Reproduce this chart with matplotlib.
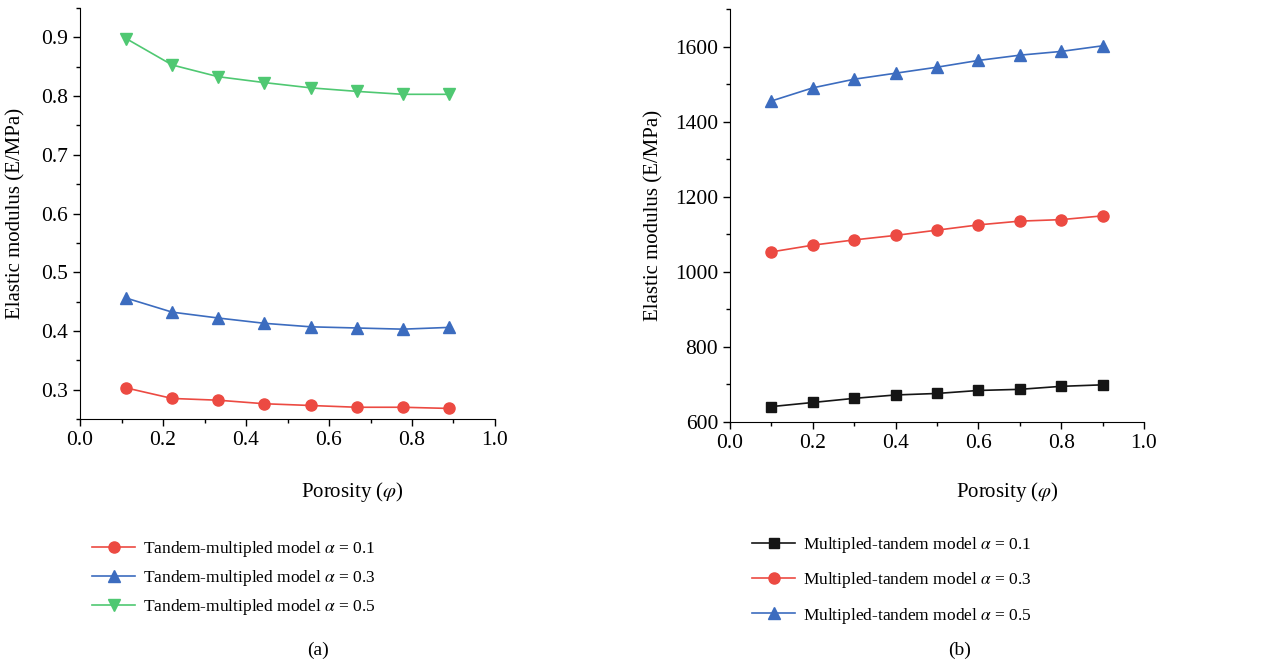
#!/usr/bin/env python3
"""
弾性率と空隙率の関係 (a) 直列-並列モデル (b) 並列-直列モデル
"""

import matplotlib
matplotlib.use('Agg')
import matplotlib.pyplot as plt
from matplotlib.ticker import MultipleLocator

plt.rcParams['font.family'] = ['Liberation Serif', 'DejaVu Serif']
plt.rcParams['mathtext.fontset'] = 'stix'

# (a) データ
porosity_a = [0.111, 0.222, 0.333, 0.444, 0.556, 0.667, 0.778, 0.889]
tm_01 = [0.303, 0.285, 0.282, 0.276, 0.273, 0.270, 0.270, 0.268]
tm_03 = [0.456, 0.432, 0.422, 0.413, 0.407, 0.405, 0.403, 0.406]
tm_05 = [0.898, 0.853, 0.833, 0.823, 0.814, 0.808, 0.803, 0.803]

# (b) データ
porosity_b = [0.1, 0.2, 0.3, 0.4, 0.5, 0.6, 0.7, 0.8, 0.9]
mt_01 = [641, 652, 663, 672, 676, 684, 687, 695, 699]
mt_03 = [1053, 1071, 1085, 1097, 1111, 1125, 1135, 1139, 1149]
mt_05 = [1455, 1490, 1513, 1529, 1545, 1563, 1577, 1587, 1602]

RED = '#ec4a42'
BLUE = '#3c6cbf'
GREEN = '#4fc872'
BLACK = '#151515'

fig = plt.figure(figsize=(12.87, 6.67), dpi=100)
W, H = 1287, 667

ax1 = fig.add_axes([80 / W, 1 - 419 / H, 415 / W, 411 / H])
ax2 = fig.add_axes([730 / W, 1 - 422 / H, 414 / W, 413 / H])


def style_axis(ax, ylabel_x):
    for s in ['top', 'right']:
        ax.spines[s].set_visible(False)
    ax.tick_params(which='both', direction='out', labelsize=15.5, width=1)
    ax.tick_params(which='major', length=5)
    ax.tick_params(which='minor', length=3)
    ax.set_xlim(0, 1.0)
    ax.xaxis.set_major_locator(MultipleLocator(0.2))
    ax.xaxis.set_minor_locator(MultipleLocator(0.1))
    ax.set_xticklabels([f'{v:.1f}' for v in ax.get_xticks()])
    ax.set_ylabel('Elastic modulus (E/MPa)', fontsize=15)
    ax.yaxis.set_label_coords(ylabel_x, 0.5)


mk = dict(markersize=8, linewidth=1.2)
l1, = ax1.plot(porosity_a, tm_01, '-o', color=RED, **mk)
l2, = ax1.plot(porosity_a, tm_03, '-^', color=BLUE, **mk)
l3, = ax1.plot(porosity_a, tm_05, '-v', color=GREEN, **mk)
style_axis(ax1, (25 - 80) / 415)
ax1.set_ylim(0.25, 0.95)
ax1.set_yticks([0.3, 0.4, 0.5, 0.6, 0.7, 0.8, 0.9])
ax1.set_yticklabels(['0.3', '0.4', '0.5', '0.6', '0.7', '0.8', '0.9'])
ax1.yaxis.set_minor_locator(MultipleLocator(0.05))

m1, = ax2.plot(porosity_b, mt_01, '-s', color=BLACK, markersize=7, linewidth=1.2)
m2, = ax2.plot(porosity_b, mt_03, '-o', color=RED, **mk)
m3, = ax2.plot(porosity_b, mt_05, '-^', color=BLUE, **mk)
style_axis(ax2, (663 - 730) / 414)
ax2.set_ylim(600, 1700)
ax2.set_yticks([600, 800, 1000, 1200, 1400, 1600])
ax2.yaxis.set_minor_locator(MultipleLocator(100))

# 軸ラベル・キャプション
fig.text(352 / W, 1 - 492 / H, r'Porosity ($\varphi$)', ha='center', va='center', fontsize=15)
fig.text(1007 / W, 1 - 492 / H, r'Porosity ($\varphi$)', ha='center', va='center', fontsize=15)
fig.text(318 / W, 1 - 650 / H, '(a)', ha='center', va='center', fontsize=14)
fig.text(960 / W, 1 - 650 / H, '(b)', ha='center', va='center', fontsize=14)

leg_kw = dict(frameon=False, fontsize=12.5, handlelength=2.5, handletextpad=0.45,
              loc='upper left', borderpad=0, borderaxespad=0)
fig.legend([l1, l2, l3],
           [r'Tandem-multipled model $\alpha$ = 0.1',
            r'Tandem-multipled model $\alpha$ = 0.3',
            r'Tandem-multipled model $\alpha$ = 0.5'],
           bbox_to_anchor=(92 / W, 1 - 539 / H), labelspacing=0.52, **leg_kw)
fig.legend([m1, m2, m3],
           [r'Multipled-tandem model $\alpha$ = 0.1',
            r'Multipled-tandem model $\alpha$ = 0.3',
            r'Multipled-tandem model $\alpha$ = 0.5'],
           bbox_to_anchor=(752 / W, 1 - 535 / H), labelspacing=0.88, **leg_kw)

plt.savefig('out.png', dpi=100)
